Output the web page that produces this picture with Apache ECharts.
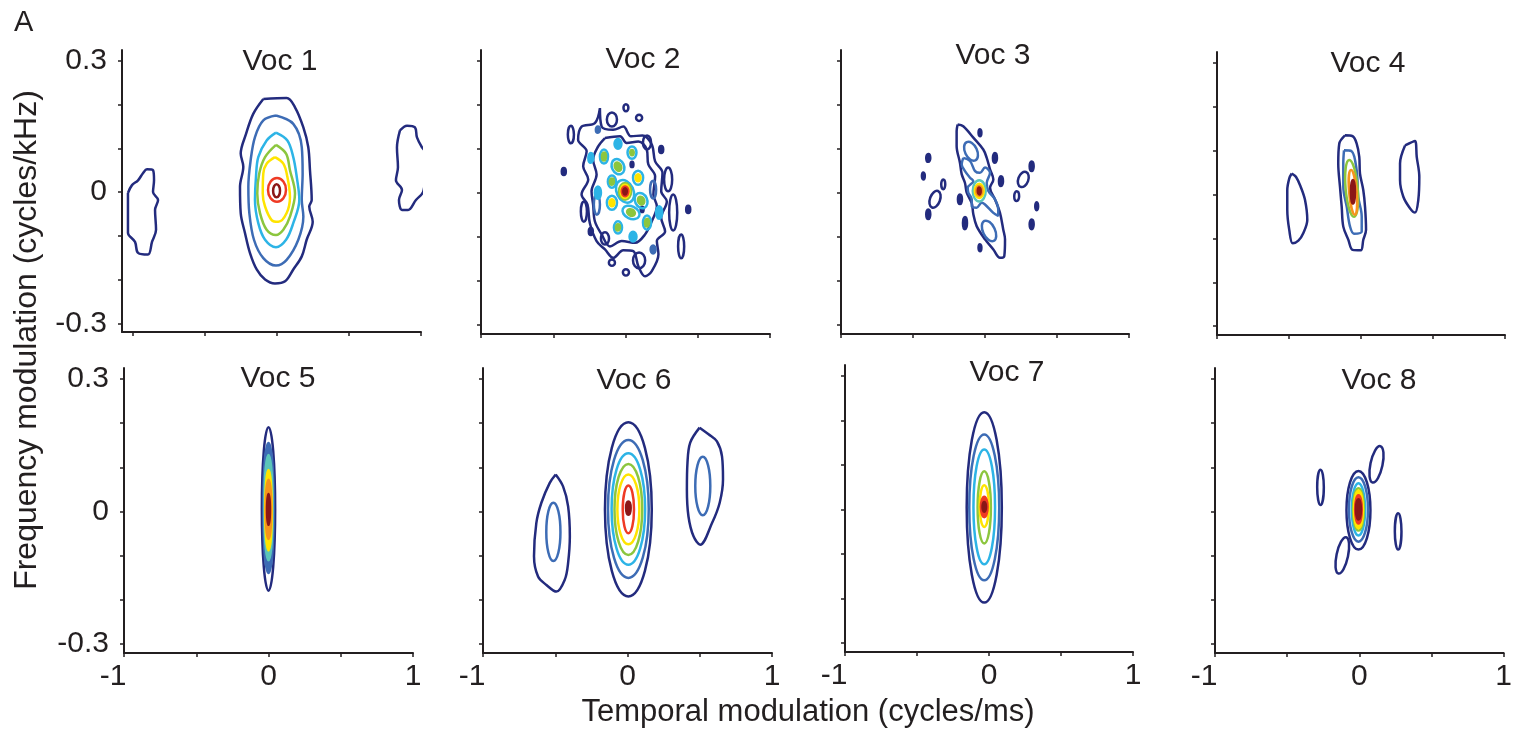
<!DOCTYPE html>
<html><head><meta charset="utf-8">
<script src="https://cdn.jsdelivr.net/npm/echarts@6/dist/echarts.min.js"></script>
<style>html,body{margin:0;padding:0;background:#fff}#chart{width:1515px;height:732px}</style>
</head><body><div id="chart"></div>
<script>
// ---------------- DATA ----------------
const panelTitles = ['Voc 1','Voc 2','Voc 3','Voc 4','Voc 5','Voc 6','Voc 7','Voc 8'];
const xTicks = [-1, -0.5, 0, 0.5, 1];
const yTicks = [-0.3, -0.2, -0.1, 0, 0.1, 0.2, 0.3];
const xLabels = [-1, 0, 1];
const yLabels = [-0.3, 0, 0.3];
const xRange = [-1, 1];
const yRange = [-0.32, 0.325];
const xTitle = 'Temporal modulation (cycles/ms)';
const yTitle = 'Frequency modulation (cycles/kHz)';
const figLabel = 'A';
// contour levels: 0 navy,1 blue,2 cyan,3 green,4 yellow,5 red,6 dark red,7 orange,8 teal
const levelColors = ['#232b7e','#3d6cb5','#2db4e6','#8cc63e','#ffe400','#ef3a24','#8b1717','#f7941d','#5bc5b9'];

// ellipse contours: [cx, cy, rx, ry, level, tiltDeg, filled]
const voc1Ellipses = [
  [0.0, 0.005, 0.0625, 0.027, 5, 0, 0],
  [-0.003, 0.003, 0.024, 0.015, 6, 0, 0]
];
const voc1Outer = [[-0.095,0.213],[0.067,0.215],[0.125,0.194],[0.183,0.148],[0.217,0.103],[0.229,0.050],[0.241,-0.018],[0.224,-0.033],[0.248,-0.068],[0.206,-0.109],[0.172,-0.147],[0.113,-0.177],[0.056,-0.204],[-0.014,-0.209],[-0.083,-0.200],[-0.141,-0.177],[-0.188,-0.139],[-0.222,-0.094],[-0.252,-0.048],[-0.257,0.012],[-0.234,0.058],[-0.252,0.088],[-0.215,0.133],[-0.165,0.179]];
const voc1Blue = [[-0.007,0.175],[0.113,0.156],[0.172,0.103],[0.178,0.043],[0.172,-0.018],[0.183,-0.056],[0.148,-0.109],[0.067,-0.155],[-0.007,-0.168],[-0.095,-0.151],[-0.160,-0.109],[-0.192,-0.048],[-0.199,0.012],[-0.183,0.073],[-0.153,0.126],[-0.095,0.164]];
const voc1Cyan = [[-0.007,0.136],[0.072,0.118],[0.113,0.080],[0.137,0.035],[0.155,-0.018],[0.113,-0.071],[0.063,-0.109],[-0.007,-0.126],[-0.083,-0.109],[-0.130,-0.071],[-0.153,-0.018],[-0.146,0.035],[-0.130,0.080],[-0.072,0.118]];
const voc1Green = [[-0.007,0.108],[0.063,0.088],[0.090,0.050],[0.125,-0.003],[0.090,-0.056],[0.044,-0.086],[-0.007,-0.098],[-0.072,-0.086],[-0.118,-0.048],[-0.137,-0.003],[-0.123,0.043],[-0.083,0.080]];
const voc1Yellow = [[-0.014,0.080],[0.044,0.065],[0.072,0.035],[0.090,-0.011],[0.067,-0.048],[0.009,-0.068],[-0.037,-0.064],[-0.083,-0.033],[-0.099,-0.003],[-0.095,0.043],[-0.072,0.065]];
const voc1LeftLobe = [[-1.035,-0.002],[-1.007,0.016],[-0.965,0.027],[-0.931,0.043],[-0.903,0.052],[-0.861,0.050],[-0.854,0.027],[-0.861,0.0],[-0.826,-0.018],[-0.847,-0.041],[-0.840,-0.086],[-0.868,-0.114],[-0.896,-0.143],[-0.965,-0.139],[-0.986,-0.114],[-1.035,-0.093],[-1.035,-0.048]];
const voc1RightLobe = [[0.854,0.141],[0.903,0.152],[0.958,0.148],[0.972,0.125],[1.007,0.102],[1.035,0.089],[1.028,0.034],[1.014,0.0],[0.965,-0.018],[0.910,-0.041],[0.868,-0.041],[0.847,-0.018],[0.868,0.005],[0.826,0.027],[0.840,0.057],[0.833,0.102]];

const voc2Ellipses = [
  [-0.378,0.133,0.021,0.020,0,0,0],[-0.427,0.049,0.014,0.008,0,0,1],[-0.094,0.167,0.035,0.016,0,0,0],
  [0.003,0.194,0.017,0.008,0,0,0],[0.094,0.171,0.021,0.007,0,0,0],[0.149,0.115,0.028,0.016,0,0,0],
  [0.247,0.099,0.014,0.008,0,0,1],[-0.288,-0.042,0.021,0.023,0,0,0],[0.295,0.031,0.028,0.027,0,0,0],
  [0.330,-0.044,0.028,0.041,0,0,0],[0.434,-0.037,0.014,0.008,0,0,1],[0.385,-0.121,0.021,0.027,0,0,0],
  [-0.240,-0.087,0.014,0.008,0,0,1],[-0.142,-0.103,0.028,0.014,0,0,0],[0.094,-0.153,0.042,0.018,0,0,0],
  [-0.094,-0.158,0.021,0.007,0,0,0],[0.003,-0.180,0.021,0.007,0,0,0],
  [0.045,0.065,0.010,0.006,0,0,1],[0.115,-0.037,0.010,0.006,0,0,1],
  [-0.198,-0.026,0.021,0.023,1,0,0],[0.191,0.008,0.021,0.020,1,0,0],[-0.191,0.144,0.014,0.007,1,0,1],[0.191,-0.128,0.017,0.009,1,0,1],
  [-0.052,0.060,0.042,0.018,2,25,0],[-0.052,0.060,0.021,0.010,3,25,1],
  [0.087,0.035,0.035,0.016,2,0,0],[0.087,0.035,0.017,0.008,4,0,1],
  [-0.094,0.026,0.028,0.014,2,0,0],[-0.094,0.026,0.014,0.007,3,0,1],
  [0.108,-0.017,0.042,0.018,2,25,0],[0.108,-0.017,0.021,0.009,3,25,1],
  [-0.094,-0.022,0.035,0.016,2,0,0],[-0.094,-0.022,0.017,0.008,4,0,1],
  [0.038,-0.044,0.062,0.014,2,-25,0],[0.038,-0.044,0.028,0.007,3,-25,1],
  [-0.149,0.083,0.028,0.016,2,0,0],[-0.149,0.083,0.014,0.009,3,0,1],
  [0.045,0.092,0.031,0.014,2,0,0],[0.045,0.092,0.012,0.006,3,0,1],
  [-0.052,0.112,0.024,0.011,2,0,1],[-0.191,0.001,0.021,0.014,2,0,1],
  [-0.052,-0.078,0.028,0.014,2,0,0],[-0.052,-0.078,0.014,0.007,3,0,1],
  [0.052,-0.099,0.024,0.011,2,0,1],
  [0.149,-0.067,0.028,0.016,2,0,0],[0.149,-0.067,0.014,0.009,3,0,1],
  [0.233,-0.044,0.021,0.014,2,0,1],[-0.240,0.080,0.017,0.011,2,0,1],
  [-0.003,0.004,0.058,0.027,2,25,0],[-0.003,0.004,0.042,0.019,3,0,0],[-0.003,0.004,0.031,0.015,4,0,1],
  [-0.003,0.004,0.023,0.011,5,0,1],[-0.003,0.004,0.012,0.007,6,0,1]
];
const voc2OuterMesh = [[-0.177,0.193],[-0.165,0.151],[-0.085,0.144],[-0.015,0.151],[0.038,0.129],[0.117,0.131],[0.182,0.110],[0.205,0.072],[0.256,0.046],[0.247,0.004],[0.286,-0.019],[0.247,-0.056],[0.274,-0.087],[0.217,-0.109],[0.228,-0.139],[0.182,-0.177],[0.135,-0.189],[0.089,-0.166],[0.054,-0.132],[-0.015,-0.130],[-0.085,-0.147],[-0.142,-0.128],[-0.200,-0.109],[-0.247,-0.068],[-0.263,-0.026],[-0.304,-0.003],[-0.258,0.031],[-0.293,0.061],[-0.269,0.095],[-0.328,0.121],[-0.304,0.151],[-0.212,0.159]];
const voc2InnerMesh = [[-0.142,0.125],[-0.038,0.129],[0.008,0.114],[0.089,0.117],[0.147,0.099],[0.158,0.065],[0.205,0.038],[0.193,-0.003],[0.217,-0.030],[0.182,-0.064],[0.135,-0.094],[0.066,-0.113],[-0.026,-0.109],[-0.108,-0.121],[-0.165,-0.094],[-0.212,-0.064],[-0.224,-0.026],[-0.235,0.004],[-0.200,0.042],[-0.224,0.076],[-0.189,0.106]];

const voc3Ellipses = [
  [-0.035,0.137,0.010,0.008,0,0,1],[-0.394,0.080,0.014,0.009,0,0,1],[0.069,0.080,0.014,0.011,0,0,1],
  [0.324,0.061,0.014,0.011,0,0,1],[-0.428,0.039,0.010,0.008,0,0,1],[-0.290,0.020,0.014,0.011,0,0,0],
  [0.111,0.027,0.014,0.011,0,0,1],[0.266,0.031,0.035,0.018,0,-20,0],[0.220,-0.007,0.017,0.011,0,0,0],
  [-0.347,-0.014,0.035,0.020,0,-20,0],[-0.174,-0.014,0.014,0.011,0,0,1],[0.359,-0.030,0.010,0.009,0,0,1],
  [-0.394,-0.048,0.014,0.011,0,0,1],[-0.139,-0.068,0.014,0.014,0,0,1],[0.324,-0.071,0.014,0.011,0,0,1],
  [-0.035,-0.124,0.010,0.008,0,0,1],
  [-0.097,0.095,0.042,0.023,1,25,0],[0.028,-0.086,0.042,0.025,1,25,0],
  [-0.040,0.005,0.045,0.024,8,0,0],[-0.040,0.005,0.031,0.016,4,0,1],[-0.040,0.005,0.021,0.011,7,0,1],[-0.040,0.005,0.010,0.008,6,0,1]
];
const voc3Band = [[-0.190,0.156],[-0.151,0.152],[-0.081,0.126],[-0.012,0.099],[0.012,0.080],[0.035,0.054],[0.058,0.031],[0.035,0.012],[0.069,-0.014],[0.104,-0.045],[0.127,-0.083],[0.139,-0.105],[0.134,-0.143],[0.104,-0.147],[0.058,-0.128],[0.0,-0.105],[-0.058,-0.075],[-0.081,-0.048],[-0.092,-0.023],[-0.127,0.001],[-0.139,0.023],[-0.162,0.043],[-0.174,0.069],[-0.197,0.107],[-0.197,0.141]];
const voc3Core = [[-0.151,0.080],[-0.104,0.073],[-0.069,0.050],[-0.035,0.046],[0.0,0.058],[0.035,0.046],[0.012,0.023],[0.023,0.005],[0.069,-0.014],[0.092,-0.037],[0.092,-0.052],[0.058,-0.045],[0.0,-0.026],[-0.023,-0.022],[-0.058,-0.033],[-0.092,-0.030],[-0.092,-0.014],[-0.116,0.001],[-0.120,0.012],[-0.081,0.027],[-0.104,0.035],[-0.139,0.050],[-0.162,0.065]];

const voc4Ellipses = [
  [-0.065,0.014,0.042,0.065,3,5,0],
  [-0.056,0.005,0.026,0.051,7,5,0],
  [-0.056,0.006,0.014,0.027,6,0,1]
];
const voc4Outer = [[-0.111,0.135],[-0.058,0.133],[-0.030,0.116],[-0.012,0.086],[-0.007,0.048],[0.016,0.010],[0.028,-0.028],[0.035,-0.080],[0.016,-0.103],[-0.002,-0.127],[-0.058,-0.126],[-0.088,-0.103],[-0.123,-0.073],[-0.134,-0.028],[-0.146,0.018],[-0.158,0.071],[-0.151,0.116]];
const voc4Mid = [[-0.118,0.101],[-0.065,0.099],[-0.030,0.055],[-0.019,-0.005],[0.005,-0.050],[0.005,-0.084],[-0.049,-0.089],[-0.076,-0.073],[-0.099,-0.028],[-0.123,0.018],[-0.123,0.071]];
const voc4LeftLobe = [[-0.481,0.048],[-0.451,0.040],[-0.419,0.018],[-0.389,-0.012],[-0.373,-0.058],[-0.401,-0.088],[-0.435,-0.105],[-0.474,-0.111],[-0.498,-0.081],[-0.512,-0.035],[-0.512,0.010],[-0.498,0.037]];
const voc4RightLobe = [[0.306,0.112],[0.375,0.122],[0.387,0.086],[0.405,0.040],[0.398,-0.012],[0.375,-0.041],[0.340,-0.031],[0.294,-0.005],[0.271,0.033],[0.271,0.071]];

const voc5Ellipses = [
  [0.0,0.006,0.046,0.185,0,0,0],
  [0.0,0.008,0.035,0.147,1,0,1],
  [0.0,0.009,0.028,0.119,8,0,1],
  [0.0,0.003,0.023,0.091,4,0,1],
  [0.0,0.005,0.019,0.067,7,0,1],
  [0.0,0.005,0.010,0.035,6,0,1]
];

const voc6Ellipses = [
  [0.006,0.005,0.162,0.197,0,0,0],
  [0.006,0.006,0.141,0.156,1,0,0],
  [0.006,0.006,0.116,0.126,2,0,0],
  [0.006,0.005,0.096,0.103,3,0,0],
  [0.006,0.005,0.076,0.079,4,0,0],
  [0.006,0.005,0.039,0.054,5,0,0],
  [0.006,0.008,0.016,0.015,6,0,1],
  [-0.513,-0.046,0.049,0.066,1,0,0],
  [0.521,0.058,0.052,0.066,1,0,0]
];
const voc6LeftLobe = [[-0.497,0.084],[-0.446,0.057],[-0.411,0.012],[-0.399,-0.056],[-0.411,-0.116],[-0.434,-0.154],[-0.492,-0.181],[-0.561,-0.166],[-0.619,-0.147],[-0.647,-0.101],[-0.631,-0.026],[-0.596,0.020],[-0.538,0.065]];
const voc6RightLobe = [[0.499,0.190],[0.561,0.175],[0.619,0.159],[0.654,0.125],[0.661,0.073],[0.638,0.020],[0.585,-0.026],[0.503,-0.075],[0.457,-0.056],[0.422,-0.011],[0.411,0.050],[0.415,0.110],[0.434,0.156]];

const voc7Ellipses = [
  [-0.033,0.005,0.122,0.214,0,0,0],
  [-0.033,0.005,0.104,0.164,1,0,0],
  [-0.033,0.006,0.075,0.129,2,0,0],
  [-0.033,0.005,0.046,0.081,3,0,0],
  [-0.033,0.008,0.032,0.047,4,0,0],
  [-0.033,0.006,0.023,0.023,5,0,1],
  [-0.033,0.006,0.012,0.011,6,0,1]
];

const voc8Ellipses = [
  [-0.006,0.003,0.083,0.089,0,0,0],
  [-0.006,0.005,0.066,0.073,1,0,0],
  [-0.006,0.005,0.046,0.059,2,0,0],
  [-0.006,0.005,0.038,0.048,3,0,0],
  [-0.006,0.005,0.031,0.043,4,0,1],
  [-0.006,0.005,0.023,0.032,5,0,1],
  [-0.006,0.005,0.017,0.023,6,0,1],
  [-0.269,0.055,0.023,0.040,0,0,0],
  [0.119,0.107,0.042,0.042,0,-12,0],
  [0.269,-0.045,0.023,0.041,0,0,0],
  [-0.118,-0.099,0.040,0.042,0,-12,0]
];

// ---------------- ASSEMBLY ----------------
const panelEllipses = [voc1Ellipses, voc2Ellipses, voc3Ellipses, voc4Ellipses, voc5Ellipses, voc6Ellipses, voc7Ellipses, voc8Ellipses];
const panelLoops = [
  [[0, voc1Outer], [1, voc1Blue], [2, voc1Cyan], [3, voc1Green], [4, voc1Yellow], [0, voc1LeftLobe], [0, voc1RightLobe]],
  [[0, voc2OuterMesh], [0, voc2InnerMesh]],
  [[0, voc3Band], [1, voc3Core]],
  [[0, voc4Outer], [1, voc4Mid], [0, voc4LeftLobe], [0, voc4RightLobe]],
  [],
  [[0, voc6LeftLobe], [0, voc6RightLobe]],
  [],
  []
];

// layout (pixels)
const layout = [
  {left:122, top:50, width:299, height:282, xmin:-1.0764},
  {left:481, top:50, width:289, height:284},
  {left:841, top:50, width:288, height:284},
  {left:1217, top:52, width:288, height:283},
  {left:124, top:368, width:289, height:285},
  {left:483, top:368, width:289, height:285},
  {left:845, top:365, width:288, height:287},
  {left:1215, top:368, width:289, height:285}
];
const titlePos = [[280,61.5],[643,60],[993,56],[1368,64],[278,378.5],[634,381],[1007,373],[1379,381]];

const FONT = '"Liberation Sans", Arial, Helvetica, sans-serif';
const INK = '#231f20';
const LW = 2.5;
const FS = 30;

const chart = echarts.init(document.getElementById('chart'));
const grid = [], xAxis = [], yAxis = [], series = [], graphic = [];

layout.forEach((g, i) => {
  const firstCol = i % 4 === 0;
  const bottomRow = i >= 4;
  grid.push({left: g.left, top: g.top, width: g.width, height: g.height});
  xAxis.push({
    type: 'value', gridIndex: i,
    min: g.xmin !== undefined ? g.xmin : xRange[0], max: xRange[1],
    axisLine: {onZero: false, lineStyle: {color: INK, width: 2}},
    axisTick: {show: true, inside: false, length: 4, customValues: xTicks, lineStyle: {color: INK, width: 1.5}},
    axisLabel: {
      show: bottomRow, customValues: xLabels, margin: 9, color: INK, fontSize: FS, fontFamily: FONT,
      formatter: v => (v === -1 ? '{n|-1}' : String(v)),
      rich: {n: {padding: [0, 22, 0, 0], fontSize: FS, fontFamily: FONT, color: INK}}
    },
    splitLine: {show: false}
  });
  yAxis.push({
    type: 'value', gridIndex: i, min: yRange[0], max: yRange[1],
    axisLine: {onZero: false, lineStyle: {color: INK, width: 2}},
    axisTick: {show: true, inside: false, length: 4, customValues: yTicks, lineStyle: {color: INK, width: 1.5}},
    axisLabel: {show: firstCol, customValues: yLabels, margin: 15, color: INK, fontSize: FS, fontFamily: FONT,
      formatter: v => String(v)},
    splitLine: {show: false}
  });

  panelLoops[i].forEach(([lvl, pts]) => {
    series.push({
      type: 'line', xAxisIndex: i, yAxisIndex: i, data: pts.concat([pts[0]]),
      smooth: 0.35, symbol: 'none', clip: false, silent: true, z: 2,
      lineStyle: {color: levelColors[lvl], width: LW}
    });
  });

  series.push({
    type: 'custom', xAxisIndex: i, yAxisIndex: i, data: panelEllipses[i], clip: false, silent: true, z: 3,
    encode: {x: 0, y: 1},
    renderItem: function (params, api) {
      const c = api.coord([api.value(0), api.value(1)]);
      const s = api.size([api.value(2), api.value(3)]);
      const color = levelColors[api.value(4)];
      const filled = api.value(6) === 1;
      return {
        type: 'ellipse', x: c[0], y: c[1], rotation: api.value(5) * Math.PI / 180,
        shape: {cx: 0, cy: 0, rx: s[0], ry: s[1]},
        style: {fill: filled ? color : 'none', stroke: color, lineWidth: LW}
      };
    }
  });

  graphic.push({
    type: 'text', x: titlePos[i][0], y: titlePos[i][1], silent: true,
    style: {text: panelTitles[i], font: FS + 'px ' + FONT, fill: INK, textAlign: 'center', textVerticalAlign: 'middle', align: 'center', verticalAlign: 'middle'}
  });
});

graphic.push({type: 'text', x: 14, y: 23, silent: true,
  style: {text: figLabel, font: '29px ' + FONT, fill: INK, textAlign: 'left', textVerticalAlign: 'middle', align: 'left', verticalAlign: 'middle'}});
graphic.push({type: 'text', x: 808, y: 712, silent: true,
  style: {text: xTitle, font: '31px ' + FONT, fill: INK, textAlign: 'center', textVerticalAlign: 'middle', align: 'center', verticalAlign: 'middle'}});
graphic.push({type: 'text', x: 27, y: 340, rotation: Math.PI / 2, silent: true,
  style: {text: yTitle, font: '32px ' + FONT, fill: INK, textAlign: 'center', textVerticalAlign: 'middle', align: 'center', verticalAlign: 'middle'}});

chart.setOption({
  animation: false,
  backgroundColor: '#ffffff',
  grid, xAxis, yAxis, series, graphic
});
</script></body></html>
